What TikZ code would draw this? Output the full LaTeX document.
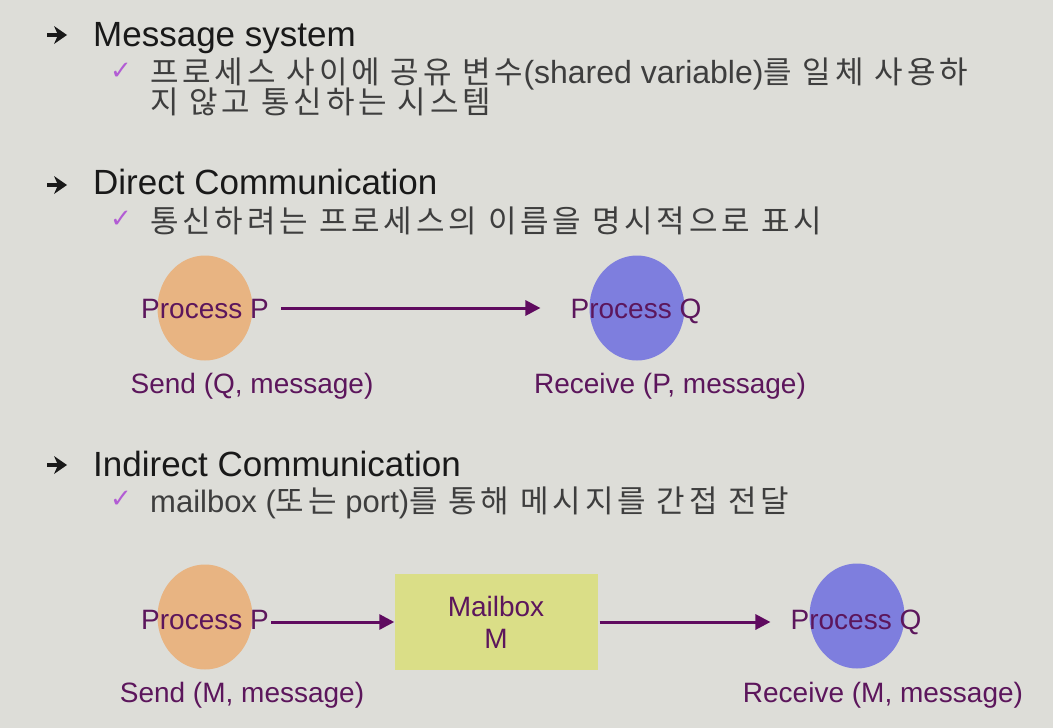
\documentclass[tikz,border=0pt]{standalone}
\usepackage{fontspec}
\setmainfont{Liberation Sans}
\newfontfamily\kr[LetterSpace=12.5]{Noto Sans CJK KR}
\newfontfamily\sym{DejaVu Sans}
\usetikzlibrary{arrows.meta, shapes.geometric}

\definecolor{bgc}{RGB}{221,221,216}
\definecolor{headc}{RGB}{25,25,25}
\definecolor{korc}{RGB}{62,62,62}
\definecolor{labc}{RGB}{92,22,92}
\definecolor{arrc}{RGB}{95,10,95}
\definecolor{procP}{RGB}{232,180,130}
\definecolor{procQ}{RGB}{126,126,222}
\definecolor{boxc}{RGB}{218,222,135}
\definecolor{chkc}{RGB}{178,92,212}

\newcommand{\tightlines}{\lineskiplimit=-50pt\relax}

\tikzset{
  head/.style={anchor=base west, inner sep=0pt, text=headc, font=\fontsize{35}{40}\selectfont},
  sub/.style={anchor=base west, inner sep=0pt, text=korc, font=\fontsize{31}{30}\selectfont\tightlines},
  lab/.style={anchor=base, inner sep=0pt, text=labc, font=\fontsize{28}{32}\selectfont},
  procball/.style={ellipse, minimum width=95pt, minimum height=105pt, inner sep=0pt},
  chk/.style={inner sep=0pt, text=chkc, font=\sym\fontsize{26}{30}\selectfont},
  msg/.style={draw=arrc, line width=3pt, -{Triangle[length=15pt,width=15pt]}}
}

\newcommand{\bularrow}[2]{%
  \fill[headc] (#1-20,#2-1.6) rectangle (#1-6,#2+1.6);
  \fill[headc] (#1-13,#2-9) -- (#1,#2) -- (#1-13,#2+9) -- (#1-9,#2) -- cycle;}

\begin{document}
\begin{tikzpicture}[x=1pt,y=-1pt]
\fill[bgc] (0,0) rectangle (1053,728);
\useasboundingbox (0,0) rectangle (1053,728);

% Message system
\bularrow{67}{35}
\node[head] (h1) at (93,46) {Message system};
\node[chk] (c1) at (121,71) {✓};
\node[sub, align=left] (k1) at (150,113) {{\kr 프로세스 사이에 공유 변수}{\fontsize{32}{30}\selectfont(shared variable)}{\kr 를 일체 사용하}\\
  \kr 지 않고 통신하는 시스템};

% Direct Communication
\bularrow{67}{185}
\node[head] (h2) at (93,194) {Direct Communication};
\node[chk] (c2) at (121,219) {✓};
\node[sub] (k2) at (150,232) {\kr 통신하려는 프로세스의 이름을 명시적으로 표시};

\node[procball, fill=procP] (ballP) at (205,308) {};
\node[procball, fill=procQ] (ballQ) at (637,308) {};
\node[lab] (pP) at (205,318) {Process P};
\node[lab] (pQ) at (636,318) {Process Q};
\node[lab] (sendQ) at (252,393) {Send (Q, message)};
\node[lab] (recvP) at (670,393) {Receive (P, message)};
\draw[msg, shorten <=12pt, shorten >=30pt] (pP.east |- ballP) -- (pQ.west |- ballQ);

% Indirect Communication
\bularrow{67}{465}
\node[head] (h3) at (93,476) {Indirect Communication};
\node[chk] (c3) at (121,499) {✓};
\node[sub] (k3) at (150,512) {mailbox ({\kr 또는} port){\kr 를 통해 메시지를 간접 전달}};

\node[procball, fill=procP] (ballP2) at (205,617) {};
\node[procball, fill=procQ] (ballQ2) at (857,616) {};
\node[draw=none, fill=boxc, minimum width=203pt, minimum height=96pt, inner sep=0pt] (mbox) at (496,622) {};
\node[lab] (mb1) at (496,616) {Mailbox};
\node[lab] (mb2) at (496,648) {M};
\node[lab] (pP2) at (205,629) {Process P};
\node[lab] (pQ2) at (856,629) {Process Q};
\node[lab] (sendM) at (242,702) {Send (M, message)};
\node[lab] (recvM) at (883,702) {Receive (M, message)};
\draw[msg, shorten <=2pt] (pP2.east |- mbox) -- (mbox.west);
\draw[msg, shorten <=2pt, shorten >=20pt] (mbox.east) -- (pQ2.west |- mbox);

\end{tikzpicture}
\end{document}
